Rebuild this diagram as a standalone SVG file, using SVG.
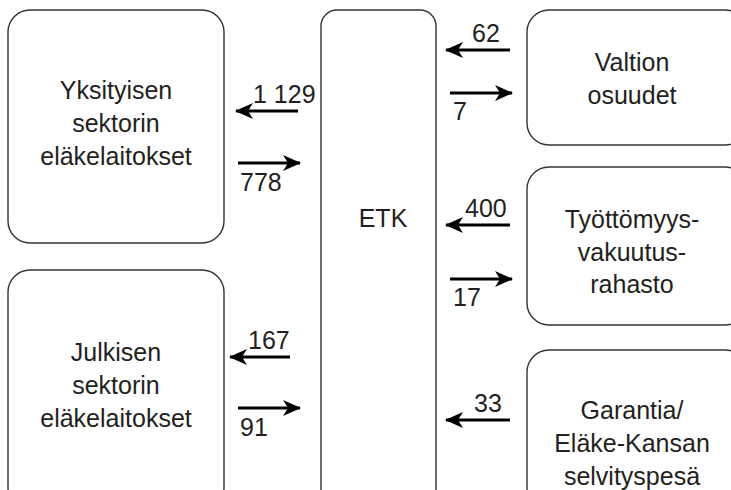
<svg xmlns="http://www.w3.org/2000/svg" width="731" height="490" viewBox="0 0 731 490">
<defs>
<marker id="ah" viewBox="0 0 18 16" refX="17" refY="8" markerWidth="18" markerHeight="16" markerUnits="userSpaceOnUse" orient="auto">
<path d="M0,0 L18,8 L0,16 L5,8 Z" fill="#000"/>
</marker>
<style>
.box{fill:#fff;stroke:#333;stroke-width:1.4}
.t{font-family:"Liberation Sans",Arial,sans-serif;font-size:25px;fill:#231f20;text-anchor:middle}
.n{font-family:"Liberation Sans",Arial,sans-serif;font-size:25px;fill:#231f20}
.a{stroke:#000;stroke-width:3;fill:none;marker-end:url(#ah)}
</style>
</defs>
<rect width="731" height="490" fill="#fff"/>
<g id="yksityisen">
<rect class="box" x="8" y="10" width="216" height="233" rx="22"/>
<text class="t" x="116" y="99">Yksityisen</text>
<text class="t" x="116" y="132">sektorin</text>
<text class="t" x="116" y="165">eläkelaitokset</text>
</g>
<g id="julkisen">
<rect class="box" x="8" y="270" width="216" height="240" rx="22"/>
<text class="t" x="116" y="361">Julkisen</text>
<text class="t" x="116" y="394">sektorin</text>
<text class="t" x="116" y="427">eläkelaitokset</text>
</g>
<g id="etk">
<rect class="box" x="321" y="10" width="115" height="500" rx="16"/>
<text class="t" x="383" y="227">ETK</text>
</g>
<g id="valtion">
<rect class="box" x="527" y="10" width="220" height="135" rx="22"/>
<text class="t" x="632" y="71">Valtion</text>
<text class="t" x="632" y="104">osuudet</text>
</g>
<g id="tyottomyys">
<rect class="box" x="527" y="167" width="220" height="158" rx="22"/>
<text class="t" x="632" y="228">Työttömyys-</text>
<text class="t" x="632" y="261">vakuutus-</text>
<text class="t" x="632" y="293">rahasto</text>
</g>
<g id="garantia">
<rect class="box" x="527" y="350" width="220" height="160" rx="22"/>
<text class="t" x="632" y="419">Garantia/</text>
<text class="t" x="632" y="452">Eläke-Kansan</text>
<text class="t" x="632" y="485">selvityspesä</text>
</g>
<g id="connectors">
<line class="a" x1="298" y1="111" x2="236" y2="111"/>
<text class="n" x="253" y="103">1 129</text>
<line class="a" x1="238" y1="163" x2="300" y2="163"/>
<text class="n" x="240" y="191">778</text>
<line class="a" x1="510" y1="50" x2="446" y2="50"/>
<text class="n" x="472" y="42">62</text>
<line class="a" x1="450" y1="93" x2="512" y2="93"/>
<text class="n" x="453" y="120">7</text>
<line class="a" x1="510" y1="225" x2="446" y2="225"/>
<text class="n" x="465" y="217">400</text>
<line class="a" x1="450" y1="279" x2="512" y2="279"/>
<text class="n" x="453" y="306">17</text>
<line class="a" x1="290" y1="357" x2="230" y2="357"/>
<text class="n" x="248" y="349">167</text>
<line class="a" x1="238" y1="408" x2="300" y2="408"/>
<text class="n" x="240" y="436">91</text>
<line class="a" x1="510" y1="420" x2="446" y2="420"/>
<text class="n" x="474" y="412">33</text>
</g>
</svg>
